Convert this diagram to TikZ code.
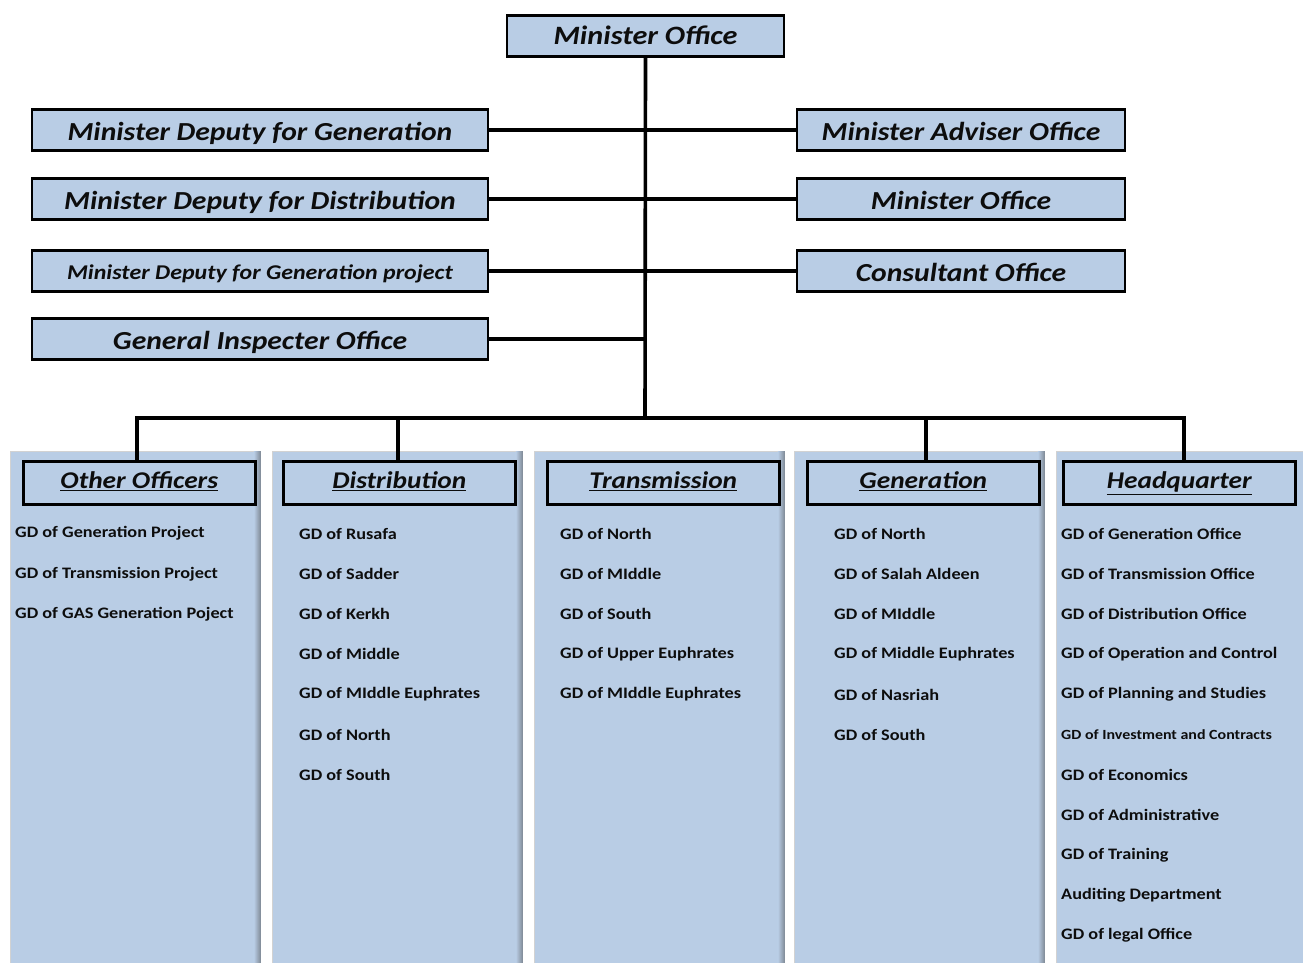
\documentclass[tikz,border=0pt]{standalone}
\usepackage{fontspec}
\setmainfont{Carlito}[FakeStretch=1.14]
\definecolor{boxblue}{HTML}{B9CDE5}
\definecolor{edgegrey}{HTML}{7E8894}
\definecolor{inkblack}{HTML}{0D0D0D}
\begin{document}
\begin{tikzpicture}[x=1pt,y=-1pt,
  office/.style={draw=black, line width=2.6pt, fill=boxblue, text=inkblack,
    minimum height=41pt, inner sep=0pt, text height=23pt, text depth=3pt,
    font=\bfseries\itshape\fontsize{26}{30}\selectfont},
  link/.style={line width=3.6pt, black},
  column/.style={fill=boxblue, draw=gray!35, line width=0.8pt,
    minimum width=250pt, minimum height=514pt, anchor=north west, inner sep=0pt},
  header/.style={draw=black, line width=2.6pt, fill=boxblue, text=inkblack,
    minimum width=232pt, minimum height=43pt, inner sep=0pt, anchor=north west,
    text height=16pt, text depth=4.5pt,
    font=\bfseries\itshape\fontsize{24}{30}\selectfont},
  item/.style={anchor=west, inner sep=0pt, text=inkblack,
    font=\bfseries\fontsize{16}{19}\selectfont}
]
\useasboundingbox (0,0) rectangle (1303,963);

% background columns with a shaded right edge
\foreach \cx [count=\k] in {10,272,534,794} {
  \node[column] (c\k) at (\cx,451) {};
  \shade[left color=boxblue, right color=edgegrey]
    ([xshift=-7pt]c\k.north east) rectangle (c\k.south east);
}
\node[column, minimum width=260pt] (c5) at (1056,451) {};

% top level
\node[office, minimum width=277pt, text height=20pt, text depth=3pt,
  font=\bfseries\itshape\fontsize{26.5}{30}\selectfont]
  (mo) at (645.5,36) {Minister Office};

% left hand offices
\node[office, minimum width=456pt] (dg)  at (260,130) {Minister Deputy for Generation};
\node[office, minimum width=456pt] (dd)  at (260,199) {Minister Deputy for Distribution};
\node[office, minimum width=456pt, text height=20pt, text depth=3pt,
  font=\bfseries\itshape\fontsize{21}{25}\selectfont]
  (dgp) at (260,271) {Minister Deputy for Generation project};
\node[office, minimum width=456pt] (gi)  at (260,339) {General Inspecter Office};

% right hand offices
\node[office, minimum width=328pt] (ad)  at (961,130) {Minister Adviser Office};
\node[office, minimum width=328pt] (mo2) at (961,199) {Minister Office};
\node[office, minimum width=328pt] (co)  at (961,271) {Consultant Office};

% junctions
\coordinate (jgi) at (645,339);
\coordinate (jn) at (645,418);
\coordinate (b1) at (137,418);
\coordinate (b2) at (398,418);
\coordinate (b4) at (926,418);
\coordinate (b5) at (1184,418);

% column headers
\node[header] (h1) at (22,460)   {\underline{Other Officers}};
\node[header] (h2) at (282,460)  {\underline{Distribution}};
\node[header] (h3) at (546,460)  {\underline{Transmission}};
\node[header] (h4) at (806,460)  {\underline{Generation}};
\node[header] (h5) at (1062,460) {\underline{Headquarter}};

% connectors
\draw[link] (mo.south) -- (jn);
\draw[link] (dg.east) -- (ad.west);
\draw[link] (dd.east) -- (mo2.west);
\draw[link] (dgp.east) -- (co.west);
\draw[link] (gi.east) -- (jgi);
\draw[link, line cap=butt] ([xshift=-1.8pt]b1) -- ([xshift=1.8pt]b5);
\draw[link] (b1) -- (b1 |- h1.north);
\draw[link] (b2) -- (b2 |- h2.north);
\draw[link] (b4) -- (b4 |- h4.north);
\draw[link] (b5) -- (b5 |- h5.north);

% lists of directorates
\foreach \t [count=\i] in {GD of Generation Project, GD of Transmission Project,
    GD of GAS Generation Poject}
  \node[item] (o\i) at (15, 493.5+40.2*\i) {\t};

\foreach \t [count=\i] in {GD of Rusafa, GD of Sadder, GD of Kerkh, GD of Middle,
    GD of MIddle Euphrates, GD of North, GD of South}
  \node[item] (d\i) at (299, 493.5+40.2*\i) {\t};

\foreach \t [count=\i] in {GD of North, GD of MIddle, GD of South,
    GD of Upper Euphrates, GD of MIddle Euphrates}
  \node[item] (t\i) at (560, 493.5+40.2*\i) {\t};

\foreach \t [count=\i] in {GD of North, GD of Salah Aldeen, GD of MIddle,
    GD of Middle Euphrates, GD of Nasriah, GD of South}
  \node[item] (g\i) at (834, 493.5+40.2*\i) {\t};

\foreach \t [count=\i] in {GD of Generation Office, GD of Transmission Office,
    GD of Distribution Office, GD of Operation and Control,
    GD of Planning and Studies,
    {\fontsize{14}{16}\selectfont GD of Investment and Contracts},
    GD of Economics, GD of Administrative, GD of Training,
    Auditing Department, GD of legal Office}
  \node[item] (q\i) at (1061, 493.5+40.2*\i) {\t};
\end{tikzpicture}
\end{document}
